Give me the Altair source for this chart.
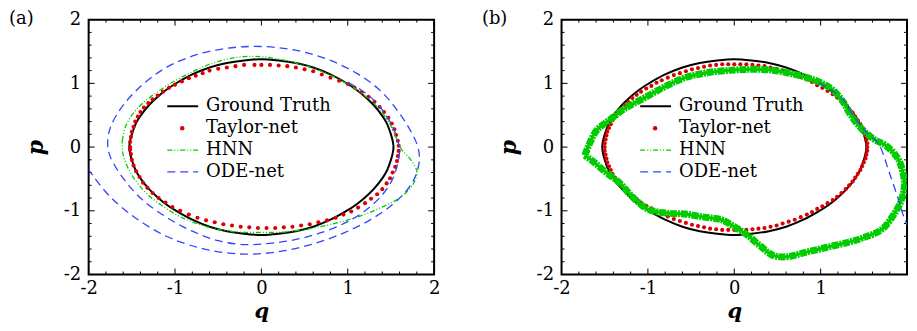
import altair as alt
import pandas as pd

# ---------------- data ----------------
gt_q = [-1.53, -1.52, -1.50, -1.45, -1.40, -1.30, -1.20, -1.10, -1.00, -0.80, -0.60, -0.40, -0.20, 0.00,
        0.20, 0.40, 0.60, 0.80, 1.00, 1.10, 1.20, 1.30, 1.40, 1.45, 1.50, 1.52, 1.53,
        1.52, 1.50, 1.45, 1.40, 1.30, 1.20, 1.10, 1.00, 0.80, 0.60, 0.40, 0.20, 0.00,
        -0.20, -0.40, -0.60, -0.80, -1.00, -1.10, -1.20, -1.30, -1.40, -1.45, -1.50, -1.52, -1.53]
gt_p = [0.00, 0.10, 0.20, 0.38, 0.49, 0.66, 0.79, 0.90, 0.99, 1.14, 1.25, 1.32, 1.36, 1.38,
        1.36, 1.32, 1.25, 1.14, 0.99, 0.90, 0.79, 0.66, 0.49, 0.38, 0.20, 0.10, 0.00,
        -0.10, -0.20, -0.38, -0.49, -0.66, -0.79, -0.90, -0.99, -1.14, -1.25, -1.32, -1.36, -1.38,
        -1.36, -1.32, -1.25, -1.14, -0.99, -0.90, -0.79, -0.66, -0.49, -0.38, -0.20, -0.10, 0.00]

# panel (a) Taylor-net
ta_q = [-1.52, -1.52, -1.51, -1.50, -1.48, -1.46, -1.43, -1.40, -1.36, -1.31, -1.26, -1.20, -1.14, -1.07,
        -1.00, -0.92, -0.84, -0.76, -0.68, -0.60, -0.50, -0.40, -0.30, -0.20, -0.08, 0.00, 0.10, 0.20,
        0.30, 0.40, 0.50, 0.60, 0.70, 0.80, 0.90, 1.00, 1.08, 1.16, 1.24, 1.31, 1.37, 1.42, 1.47, 1.51,
        1.54, 1.56, 1.58, 1.59, 1.59, 1.58, 1.57, 1.55, 1.52, 1.49, 1.45, 1.40, 1.34, 1.27, 1.20, 1.12,
        1.04, 0.95, 0.86, 0.76, 0.66, 0.56, 0.46, 0.36, 0.26, 0.16, 0.06, -0.04, -0.14, -0.24, -0.34,
        -0.44, -0.54, -0.64, -0.74, -0.84, -0.94, -1.03, -1.11, -1.19, -1.26, -1.32, -1.37, -1.41,
        -1.45, -1.48, -1.50, -1.51, -1.52]
ta_p = [0.00, 0.08, 0.16, 0.24, 0.32, 0.40, 0.48, 0.55, 0.62, 0.69, 0.75, 0.81, 0.87, 0.93,
        0.98, 1.03, 1.08, 1.12, 1.16, 1.20, 1.23, 1.25, 1.27, 1.29, 1.29, 1.29, 1.29, 1.28,
        1.27, 1.25, 1.22, 1.19, 1.14, 1.09, 1.04, 0.99, 0.93, 0.86, 0.79, 0.71, 0.63, 0.55, 0.46, 0.37,
        0.28, 0.19, 0.10, 0.02, -0.06, -0.14, -0.22, -0.31, -0.40, -0.49, -0.57, -0.66, -0.74, -0.81,
        -0.88, -0.95, -1.01, -1.06, -1.11, -1.15, -1.18, -1.21, -1.23, -1.25, -1.26, -1.27, -1.27,
        -1.27, -1.26, -1.25, -1.23, -1.21, -1.18, -1.15, -1.11, -1.06, -1.00, -0.94, -0.87, -0.80,
        -0.72, -0.64, -0.56, -0.47, -0.38, -0.29, -0.20, -0.11, -0.04]

# panel (a) HNN
ha_q = [-1.61, -1.58, -1.50, -1.38, -1.20, -1.00, -0.80, -0.60, -0.40, -0.20, 0.00, 0.20, 0.40, 0.60,
        0.80, 1.00, 1.20, 1.35, 1.48, 1.56, 1.62, 1.70, 1.77, 1.80, 1.78, 1.70, 1.55, 1.35, 1.15, 0.90,
        0.60, 0.30, 0.00, -0.30, -0.60, -0.90, -1.15, -1.35, -1.48, -1.57, -1.61, -1.61]
ha_p = [0.10, 0.30, 0.50, 0.68, 0.87, 1.04, 1.18, 1.30, 1.38, 1.42, 1.42, 1.38, 1.32, 1.24,
        1.13, 0.99, 0.80, 0.62, 0.38, 0.15, -0.03, -0.15, -0.28, -0.38, -0.52, -0.68, -0.84, -0.97,
        -1.08, -1.18, -1.27, -1.33, -1.34, -1.33, -1.26, -1.12, -0.92, -0.70, -0.48, -0.25, -0.05, 0.10]

# panel (a) ODE-net
oa_q = [1.00, 1.15, 1.30, 1.42, 1.52, 1.58, 1.60, 1.58, 1.52, 1.40, 1.22, 1.00, 0.70, 0.40, 0.10,
        -0.20, -0.50, -0.80, -1.10, -1.40, -1.62, -1.75, -1.78, -1.75, -1.62, -1.40, -1.10, -0.75,
        -0.40, -0.10, 0.20, 0.50, 0.80, 1.10, 1.35, 1.55, 1.70, 1.80, 1.83, 1.80, 1.70, 1.52, 1.25,
        0.95, 0.60, 0.25, -0.10, -0.40, -0.75, -1.10, -1.45, -1.75, -1.95, -2.05]
oa_p = [1.02, 0.90, 0.74, 0.55, 0.32, 0.10, -0.05, -0.25, -0.50, -0.75, -0.98, -1.17, -1.34, -1.45,
        -1.51, -1.53, -1.47, -1.32, -1.10, -0.80, -0.45, -0.15, 0.05, 0.30, 0.62, 0.95, 1.25, 1.45,
        1.55, 1.58, 1.56, 1.49, 1.36, 1.16, 0.92, 0.62, 0.32, 0.05, -0.15, -0.40, -0.65, -0.90, -1.15,
        -1.35, -1.52, -1.63, -1.68, -1.66, -1.57, -1.40, -1.12, -0.78, -0.45, -0.25]

# panel (b) Taylor-net
tb_q = [-1.50, -1.50, -1.49, -1.48, -1.47, -1.45, -1.43, -1.41, -1.38, -1.35, -1.31, -1.27, -1.23,
        -1.18, -1.13, -1.08, -1.02, -0.96, -0.90, -0.84, -0.77, -0.70, -0.63, -0.56, -0.49, -0.42,
        -0.35, -0.28, -0.21, -0.14, -0.07, 0.00, 0.07, 0.14, 0.21, 0.28, 0.35, 0.42, 0.49, 0.56, 0.63,
        0.70, 0.77, 0.84, 0.90, 0.96, 1.02, 1.08, 1.14, 1.19, 1.24, 1.29, 1.33, 1.37, 1.40, 1.43, 1.46,
        1.48, 1.50, 1.52, 1.53, 1.54, 1.54, 1.54, 1.53, 1.52, 1.50, 1.48, 1.46, 1.43, 1.40, 1.37, 1.33,
        1.29, 1.24, 1.19, 1.14, 1.08, 1.02, 0.96, 0.90, 0.84, 0.77, 0.70, 0.63, 0.56, 0.49, 0.42, 0.35,
        0.28, 0.21, 0.14, 0.07, 0.00, -0.07, -0.14, -0.21, -0.28, -0.35, -0.42, -0.49, -0.56, -0.63,
        -0.70, -0.77, -0.84, -0.90, -0.96, -1.02, -1.08, -1.13, -1.18, -1.23, -1.27, -1.31, -1.35,
        -1.38, -1.41, -1.43, -1.45, -1.47, -1.48, -1.49, -1.50]
tb_p = [0.00, 0.06, 0.12, 0.18, 0.24, 0.30, 0.36, 0.42, 0.48, 0.54, 0.60, 0.66, 0.71, 0.77, 0.82,
        0.87, 0.92, 0.96, 1.01, 1.05, 1.09, 1.13, 1.16, 1.19, 1.22, 1.24, 1.26, 1.28, 1.29, 1.30, 1.30,
        1.30, 1.30, 1.30, 1.29, 1.28, 1.27, 1.25, 1.23, 1.20, 1.17, 1.14, 1.10, 1.06, 1.02, 0.97, 0.93,
        0.88, 0.83, 0.78, 0.72, 0.66, 0.60, 0.54, 0.48, 0.42, 0.36, 0.30, 0.24, 0.18, 0.12, 0.06, 0.00,
        -0.06, -0.12, -0.18, -0.24, -0.30, -0.36, -0.42, -0.48, -0.54, -0.60, -0.66, -0.72, -0.78,
        -0.83, -0.88, -0.93, -0.97, -1.02, -1.06, -1.10, -1.14, -1.17, -1.20, -1.23, -1.25, -1.27,
        -1.28, -1.29, -1.30, -1.30, -1.30, -1.30, -1.30, -1.29, -1.28, -1.26, -1.24, -1.22, -1.19,
        -1.16, -1.13, -1.09, -1.05, -1.01, -0.96, -0.92, -0.87, -0.82, -0.77, -0.71, -0.66, -0.60,
        -0.54, -0.48, -0.42, -0.36, -0.30, -0.24, -0.18, -0.12, -0.06]

# panel (b) HNN
hb_q = [-1.73, -1.60, -1.44, -1.25, -1.03, -0.80, -0.57, -0.30, 0.00, 0.20, 0.42, 0.70, 0.95, 1.12,
        1.25, 1.35, 1.48, 1.62, 1.75, 1.88, 1.94, 1.97, 1.93, 1.86, 1.71, 1.50, 1.33, 1.05, 0.80, 0.62,
        0.45, 0.30, 0.15, 0.00, -0.15, -0.35, -0.57, -0.75, -0.99, -1.15, -1.33, -1.50, -1.63, -1.73]
hb_p = [-0.13, 0.25, 0.43, 0.62, 0.78, 0.95, 1.09, 1.17, 1.21, 1.22, 1.21, 1.14, 1.04, 0.92,
        0.73, 0.50, 0.28, 0.12, 0.03, -0.15, -0.33, -0.60, -0.85, -1.03, -1.29, -1.42, -1.49, -1.58,
        -1.66, -1.72, -1.70, -1.55, -1.38, -1.25, -1.14, -1.10, -1.05, -1.04, -0.98, -0.82, -0.56,
        -0.38, -0.23, -0.13]

# panel (b) ODE-net
ob_q = [0.98, 1.12, 1.25, 1.35, 1.50, 1.67, 1.79, 1.90, 1.97, 2.05]
ob_p = [1.01, 0.90, 0.76, 0.55, 0.28, 0.05, -0.38, -0.82, -1.12, -1.35]

major_ticks = [-2, -1, 0, 1, 2]
minor_ticks = [-1.8, -1.6, -1.4, -1.2, -0.8, -0.6, -0.4, -0.2, 0.2, 0.4, 0.6, 0.8, 1.2, 1.4, 1.6, 1.8]
legend_labels = ["Ground Truth", "Taylor-net", "HNN", "ODE-net"]
panel_labels = ["(a)", "(b)"]

# ---------------- style ----------------
W, H = 347, 256
FONT = "DejaVu Serif"
RED, GREEN, BLUE = "#dd0000", "#00cc00", "#3344ff"
HNN_DASH = [5, 2, 1, 2, 1, 2]
ODE_DASH = [8, 5]
dom = alt.Scale(domain=[-2, 2], nice=False, zero=False)
Y_AX = alt.Axis(values=major_ticks, labelExpr="'' + datum.value", title="p", titlePadding=16,
                labelPadding=8, labelFlush=False, labelOverlap=False)


def x_axis(hide_last):
    # in panel (b) the right-most label is cut off by the page edge in the original
    expr = "datum.value == 2 ? '' : '' + datum.value" if hide_last else "'' + datum.value"
    return alt.Axis(values=major_ticks, labelExpr=expr, title="q", titlePadding=3,
                    labelPadding=5, labelFlush=False, labelOverlap=False, titleFontSize=21)


def make_panel(tq, tp, hq, hp, oq, op, label, hnn_layers, hide_last):
    X_AX = x_axis(hide_last)

    def X(field):
        return alt.X(field, scale=dom, axis=X_AX)

    def Y(field):
        return alt.Y(field, scale=dom, axis=Y_AX)

    def path_df(q, p):
        return pd.DataFrame({"q": q, "p": p, "i": list(range(len(q)))})

    def line_layer(df, color, width, dash=None):
        kw = dict(color=color, strokeWidth=width, clip=True, interpolate="catmull-rom")
        if dash:
            kw["strokeDash"] = dash
        return alt.Chart(df).mark_line(**kw).encode(x=X("q:Q"), y=Y("p:Q"), order="i:Q")

    layers = [line_layer(path_df(gt_q, gt_p), "black", 2)]

    # inward ticks on all four sides
    for vals, ln in ((major_ticks, 6), (minor_ticks, 3)):
        d = pd.DataFrame({"v": vals})
        base = alt.Chart(d).mark_rule(color="black", strokeWidth=1)
        layers.append(base.encode(x=X("v:Q"), y=alt.value(H), y2=alt.value(H - ln)))
        layers.append(base.encode(x=X("v:Q"), y=alt.value(0), y2=alt.value(ln)))
        layers.append(base.encode(y=Y("v:Q"), x=alt.value(0), x2=alt.value(ln)))
        layers.append(base.encode(y=Y("v:Q"), x=alt.value(W), x2=alt.value(W - ln)))

    layers.append(alt.Chart(path_df(tq, tp)).mark_circle(color=RED, size=17, opacity=1, clip=True)
                  .encode(x=X("q:Q"), y=Y("p:Q")))
    for width, dash in hnn_layers:
        layers.append(line_layer(path_df(hq, hp), GREEN, width, dash))
    layers.append(line_layer(path_df(oq, op), BLUE, 1.3, ODE_DASH))

    # legend
    rows = [87, 109, 131, 153]
    one = lambda s: pd.DataFrame({"t": [s]})
    layers.append(alt.Chart(one(legend_labels[0])).mark_rule(color="black", strokeWidth=2)
                  .encode(x=alt.value(79), x2=alt.value(110), y=alt.value(rows[0])))
    layers.append(alt.Chart(one(legend_labels[1])).mark_point(filled=True, size=20, color=RED, opacity=1)
                  .encode(x=alt.value(94), y=alt.value(rows[1])))
    layers.append(alt.Chart(one(legend_labels[2])).mark_rule(color=GREEN, strokeWidth=1.3, strokeDash=HNN_DASH)
                  .encode(x=alt.value(79), x2=alt.value(110), y=alt.value(rows[2])))
    layers.append(alt.Chart(one(legend_labels[3])).mark_rule(color=BLUE, strokeWidth=1.3, strokeDash=ODE_DASH)
                  .encode(x=alt.value(79), x2=alt.value(110), y=alt.value(rows[3])))
    for lab, r in zip(legend_labels, rows):
        layers.append(alt.Chart(one(lab)).mark_text(align="left", baseline="middle", font=FONT,
                                                    fontSize=18, color="black")
                      .encode(x=alt.value(118), y=alt.value(r), text="t:N"))

    layers.append(alt.Chart(pd.DataFrame({"t": [label]}))
                  .mark_text(align="left", baseline="middle", font=FONT, fontSize=18, color="black")
                  .encode(x=alt.value(-80), y=alt.value(-1), text="t:N"))
    return alt.layer(*layers).properties(width=W, height=H)


pa = make_panel(ta_q, ta_p, ha_q, ha_p, oa_q, oa_p, panel_labels[0], [(1.3, HNN_DASH)], False)
pb = make_panel(tb_q, tb_p, hb_q, hb_p, ob_q, ob_p, panel_labels[1],
                [(3, None), (7, [7, 1, 2, 1])], True)

chart = (alt.hconcat(pa, pb, spacing=40)
         .properties(padding={"left": 0, "top": 0, "right": 0, "bottom": 0}, background="white")
         .configure_view(stroke="black", strokeWidth=2)
         .configure_axis(grid=False, ticks=False, domain=False, labelFont=FONT, labelFontSize=18,
                         labelColor="black", titleFont=FONT, titleFontSize=22,
                         titleFontStyle="italic", titleFontWeight="bold", titleColor="black"))

chart.save("out.html", embed_options={"renderer": "svg", "actions": False})
